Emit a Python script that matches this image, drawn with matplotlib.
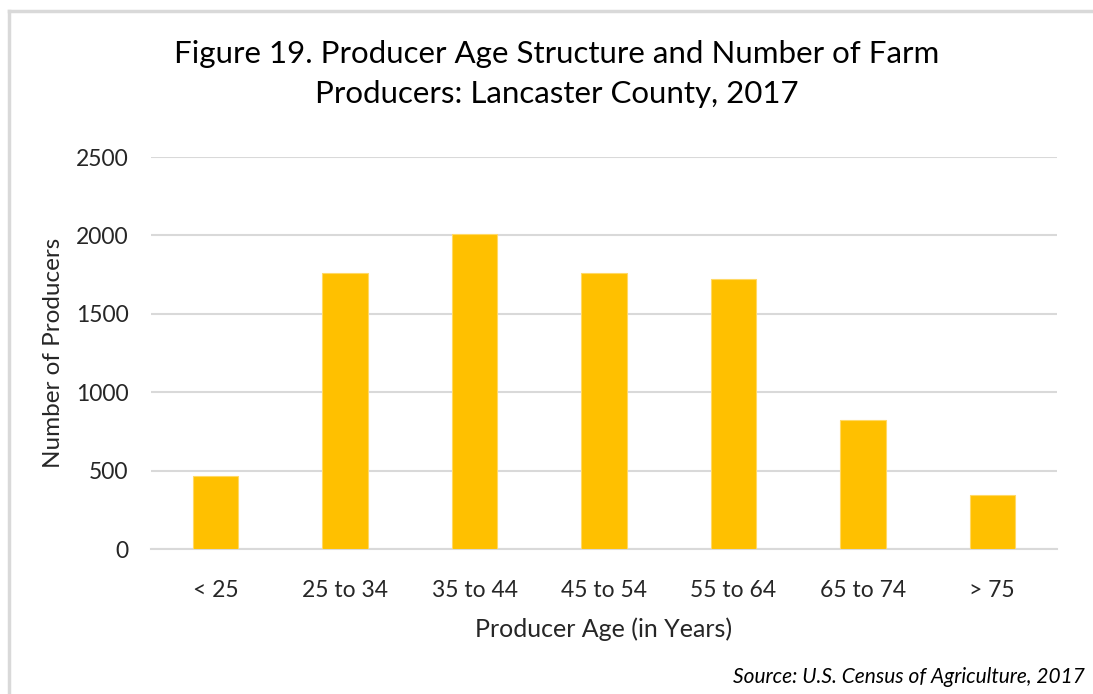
import matplotlib
matplotlib.use("Agg")
import matplotlib.pyplot as plt
from matplotlib.lines import Line2D

categories = ["< 25", "25 to 34", "35 to 44", "45 to 54", "55 to 64", "65 to 74", "> 75"]
producers = [468, 1760, 2010, 1760, 1720, 820, 342]
yticks = [0, 500, 1000, 1500, 2000, 2500]

plt.rcParams['font.family'] = ['Lato', 'DejaVu Sans']
W, H = 1093, 694
fig = plt.figure(figsize=(W/100, H/100), dpi=100)
fig.patch.set_facecolor("white")

# outer frame (left and top edges visible)
fig.add_artist(Line2D([9/W, 9/W], [0, 1 - 11/H], transform=fig.transFigure,
                      color="#d9d9d9", linewidth=2.5))
fig.add_artist(Line2D([9/W, 1], [1 - 11/H, 1 - 11/H], transform=fig.transFigure,
                      color="#d9d9d9", linewidth=2.5))

ax = fig.add_axes([151/W, 1 - 549/H, (1057-151)/W, (549-157)/H])
x = range(len(categories))
ax.bar(x, producers, width=0.35, color="#FFC000", edgecolor="#FFD966", linewidth=0.8, zorder=3)
ax.set_xlim(-0.5, len(categories) - 0.5)
ax.set_ylim(0, 2500)
ax.set_yticks(yticks)
ax.set_xticks(list(x))
ax.set_xticklabels(categories)
ax.yaxis.grid(True, color="#d9d9d9", linewidth=1.5, zorder=0)
for s in ["top", "right", "left"]:
    ax.spines[s].set_visible(False)
ax.spines["bottom"].set_color("#d9d9d9")
ax.spines["bottom"].set_linewidth(1.5)
ax.tick_params(axis="both", length=0, labelsize=16.5, colors="#262626")
ax.tick_params(axis="y", pad=16)
ax.tick_params(axis="x", pad=22)
ax.set_xlabel("Producer Age (in Years)", fontsize=18, color="#262626", labelpad=12)
ax.set_ylabel("Number of Producers", fontsize=17.5, color="#262626", labelpad=9)

fig.text(557/W, 1 - 74/H, "Figure 19. Producer Age Structure and Number of Farm\nProducers: Lancaster County, 2017",
         ha="center", va="center", fontsize=22.5, color="#000000", linespacing=1.5)
fig.text(1085/W, 1 - 677/H, "Source: U.S. Census of Agriculture, 2017", ha="right", va="center",
         fontsize=15, style="italic", color="#000000")

fig.savefig("out.png", dpi=100, facecolor="white")
